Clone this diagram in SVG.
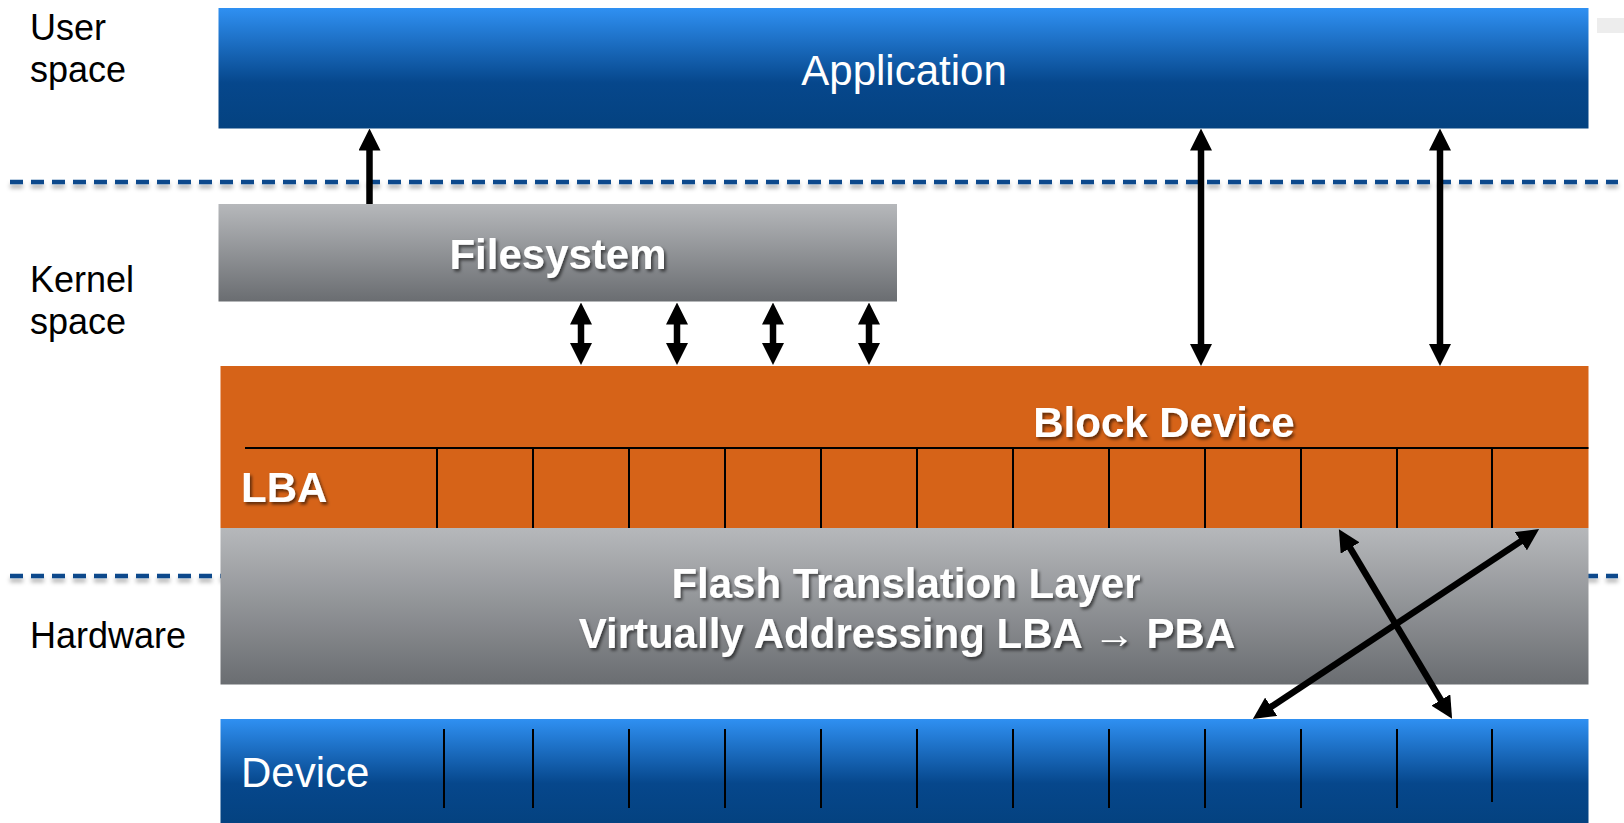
<svg xmlns="http://www.w3.org/2000/svg" width="1624" height="823" viewBox="0 0 1624 823">
  <defs>
    <linearGradient id="blueGrad" x1="0" y1="0" x2="0" y2="1">
      <stop offset="0" stop-color="#2f90f2"/>
      <stop offset="0.62" stop-color="#06478c"/>
      <stop offset="1" stop-color="#044280"/>
    </linearGradient>
    <linearGradient id="grayGrad" x1="0" y1="0" x2="0" y2="1">
      <stop offset="0" stop-color="#b6b8bb"/>
      <stop offset="1" stop-color="#6a6d71"/>
    </linearGradient>
    <filter id="textShadow" x="-10%" y="-30%" width="120%" height="160%">
      <feDropShadow dx="2" dy="2.5" stdDeviation="1.5" flood-color="#000" flood-opacity="0.55"/>
    </filter>
    <filter id="dashShadow" filterUnits="userSpaceOnUse" x="0" y="0" width="1624" height="823">
      <feDropShadow dx="0" dy="4" stdDeviation="2" flood-color="#000" flood-opacity="0.3"/>
    </filter>
    <marker id="head" viewBox="0 0 22 22" markerUnits="userSpaceOnUse" markerWidth="22" markerHeight="22" refX="14" refY="11" orient="auto-start-reverse">
      <path d="M0,0 L22,11 L0,22 z" fill="#000"/>
    </marker>
  </defs>
  <style>
    .side { font-family: "Liberation Sans", Arial, sans-serif; font-size: 36px; fill: #000; }
    .title { font-family: "Liberation Sans", Arial, sans-serif; font-size: 42px; fill: #fff; }
    .bold { font-family: "Liberation Sans", Arial, sans-serif; font-size: 42px; font-weight: bold; fill: #fff; filter: url(#textShadow); }
    .dash { stroke: #0a4a8c; stroke-width: 4.5; stroke-dasharray: 13 8; fill: none; }
    .cell { stroke: #000; stroke-width: 2; }
    .arrow { stroke: #000; stroke-width: 6.5; fill: none; marker-start: url(#head); marker-end: url(#head); }
    .arrow1 { stroke: #000; stroke-width: 6.5; fill: none; marker-end: url(#head); }
  </style>

  <rect width="1624" height="823" fill="#fff"/>
  <rect x="1597" y="18" width="27" height="15" fill="#ededed"/>

  <!-- layer labels -->
  <g id="labels">
    <text class="side" x="30" y="40">User</text>
    <text class="side" x="30" y="82">space</text>
    <text class="side" x="30" y="292">Kernel</text>
    <text class="side" x="30" y="334">space</text>
    <text class="side" x="30" y="648">Hardware</text>
  </g>

  <!-- boundaries between user space, kernel space and hardware -->
  <g id="boundaries" filter="url(#dashShadow)">
    <path class="dash" d="M10,182 H1618"/>
    <path class="dash" d="M10,576 H1618"/>
  </g>

  <g id="application">
    <rect x="218.5" y="8" width="1370" height="120.5" fill="url(#blueGrad)"/>
    <text class="title" x="904" y="85" text-anchor="middle">Application</text>
  </g>

  <g id="filesystem">
    <rect x="218.5" y="204" width="678.5" height="97.5" fill="url(#grayGrad)"/>
    <text class="bold" x="558" y="269" text-anchor="middle">Filesystem</text>
  </g>

  <g id="block-device">
    <rect x="220.5" y="366" width="1368" height="162" fill="#d66318"/>
    <line class="cell" x1="245" y1="448" x2="1588.5" y2="448"/>
    <g class="cell">
      <line x1="437" y1="448" x2="437" y2="528"/>
      <line x1="533" y1="448" x2="533" y2="528"/>
      <line x1="629" y1="448" x2="629" y2="528"/>
      <line x1="725" y1="448" x2="725" y2="528"/>
      <line x1="821" y1="448" x2="821" y2="528"/>
      <line x1="917" y1="448" x2="917" y2="528"/>
      <line x1="1013" y1="448" x2="1013" y2="528"/>
      <line x1="1109" y1="448" x2="1109" y2="528"/>
      <line x1="1205" y1="448" x2="1205" y2="528"/>
      <line x1="1301" y1="448" x2="1301" y2="528"/>
      <line x1="1397" y1="448" x2="1397" y2="528"/>
      <line x1="1492" y1="448" x2="1492" y2="528"/>
    </g>
    <text class="bold" x="1164" y="437" text-anchor="middle">Block Device</text>
    <text class="bold" x="241" y="502">LBA</text>
  </g>

  <g id="ftl">
    <rect x="220.5" y="528" width="1368" height="156.5" fill="url(#grayGrad)"/>
    <text class="bold" x="906" y="598" text-anchor="middle">Flash Translation Layer</text>
    <text class="bold" x="907" y="648" text-anchor="middle">Virtually Addressing LBA <tspan font-weight="normal">→</tspan> PBA</text>
  </g>

  <g id="device">
    <rect x="220.5" y="719" width="1368" height="104" fill="url(#blueGrad)"/>
    <g class="cell">
      <line x1="444" y1="729" x2="444" y2="808"/>
      <line x1="533" y1="729" x2="533" y2="808"/>
      <line x1="629" y1="729" x2="629" y2="808"/>
      <line x1="725" y1="729" x2="725" y2="808"/>
      <line x1="821" y1="729" x2="821" y2="808"/>
      <line x1="917" y1="729" x2="917" y2="808"/>
      <line x1="1013" y1="729" x2="1013" y2="808"/>
      <line x1="1109" y1="729" x2="1109" y2="808"/>
      <line x1="1205" y1="729" x2="1205" y2="808"/>
      <line x1="1301" y1="729" x2="1301" y2="808"/>
      <line x1="1397" y1="729" x2="1397" y2="808"/>
      <line x1="1492" y1="729" x2="1492" y2="802"/>
    </g>
    <text class="title" x="241" y="787">Device</text>
  </g>

  <!-- connectors; line ends sit 8px short of each arrow tip -->
  <g id="connectors">
    <line class="arrow1" x1="369.5" y1="204" x2="369.5" y2="136.5"/>
    <line class="arrow" x1="1201" y1="136.5" x2="1201" y2="358"/>
    <line class="arrow" x1="1440" y1="136.5" x2="1440" y2="358"/>
    <line class="arrow" x1="581" y1="310.5" x2="581" y2="357"/>
    <line class="arrow" x1="677" y1="310.5" x2="677" y2="357"/>
    <line class="arrow" x1="773" y1="310.5" x2="773" y2="357"/>
    <line class="arrow" x1="869" y1="310.5" x2="869" y2="357"/>
    <line class="arrow" x1="1343" y1="536" x2="1448" y2="712"/>
    <line class="arrow" x1="1532.5" y1="533.5" x2="1259.5" y2="714.5"/>
  </g>
</svg>
